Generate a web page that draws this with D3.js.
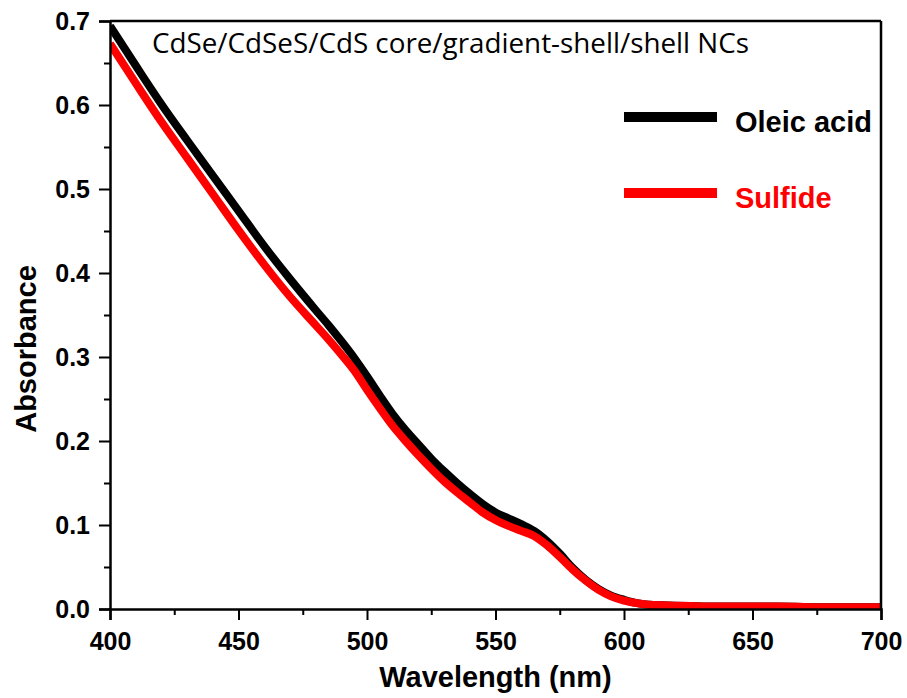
<!DOCTYPE html>
<html>
<head>
<meta charset="utf-8">
<script src="https://cdn.jsdelivr.net/npm/d3@7"></script>
<style>
  html, body { margin: 0; padding: 0; background: #fff; }
  svg { display: block; }
</style>
</head>
<body>
<svg id="chart" width="907" height="698"></svg>
<script>
// Absorption spectra (wavelength in nm, absorbance)
const wavelength = [400, 410, 420, 430, 440, 450, 460, 470, 480, 485, 490, 495, 500, 505, 510, 515, 520, 525, 530, 535, 540, 545, 550, 555, 560, 565, 570, 575, 580, 585, 590, 595, 600, 605, 610, 620, 640, 660, 680, 700];
const oleicAcid = [0.694, 0.647, 0.601, 0.558, 0.516, 0.474, 0.432, 0.393, 0.356, 0.338, 0.319, 0.299, 0.277, 0.254, 0.232, 0.213, 0.196, 0.179, 0.164, 0.150, 0.137, 0.125, 0.115, 0.108, 0.101, 0.093, 0.081, 0.066, 0.049, 0.035, 0.024, 0.016, 0.011, 0.007, 0.005, 0.004, 0.003, 0.003, 0.002, 0.002];
const sulfide   = [0.673, 0.626, 0.580, 0.537, 0.494, 0.451, 0.410, 0.372, 0.338, 0.321, 0.303, 0.284, 0.261, 0.239, 0.218, 0.200, 0.183, 0.167, 0.152, 0.139, 0.127, 0.115, 0.106, 0.099, 0.093, 0.087, 0.076, 0.062, 0.047, 0.034, 0.023, 0.015, 0.010, 0.007, 0.005, 0.004, 0.003, 0.003, 0.002, 0.002];

const seriesNames = ["Oleic acid", "Sulfide"];
const seriesColors = ["#000000", "#ff0000"];

const xMajorTicks = [400, 450, 500, 550, 600, 650, 700];
const xMinorTicks = [425, 475, 525, 575, 625, 675];
const yMajorTicks = [0.0, 0.1, 0.2, 0.3, 0.4, 0.5, 0.6, 0.7];
const yMinorTicks = [0.05, 0.15, 0.25, 0.35, 0.45, 0.55, 0.65];

const titleText = "CdSe/CdSeS/CdS core/gradient-shell/shell NCs";

const svg = d3.select("#chart");
const plot = { left: 110, right: 881, top: 21, bottom: 609 };

const x = d3.scaleLinear().domain([400, 700]).range([plot.left, plot.right]);
const y = d3.scaleLinear().domain([0, 0.7]).range([plot.bottom, plot.top]);

svg.append("defs").append("clipPath").attr("id", "plotClip")
  .append("rect")
  .attr("x", plot.left).attr("y", plot.top)
  .attr("width", plot.right - plot.left).attr("height", plot.bottom - plot.top);

// Spectra
const line = d3.line().curve(d3.curveMonotoneX)
  .x(d => x(d[0])).y(d => y(d[1]));

const seriesData = [oleicAcid, sulfide];
const curves = svg.append("g").attr("clip-path", "url(#plotClip)");
seriesData.forEach((vals, i) => {
  curves.append("path")
    .datum(wavelength.map((w, j) => [w, vals[j]]))
    .attr("fill", "none")
    .attr("stroke", seriesColors[i])
    .attr("stroke-width", 8)
    .attr("stroke-linejoin", "round")
    .attr("d", line);
});

// Axes
const tickFont = "'Liberation Sans', Arial, sans-serif";

const xAxis = svg.append("g").attr("transform", `translate(0,${plot.bottom})`)
  .call(d3.axisBottom(x).tickValues(xMajorTicks).tickSize(11).tickPadding(6).tickFormat(d3.format("d")));
svg.append("g").attr("transform", `translate(0,${plot.bottom})`)
  .call(d3.axisBottom(x).tickValues(xMinorTicks).tickSize(6).tickFormat(""))
  .select(".domain").remove();

const yAxis = svg.append("g").attr("transform", `translate(${plot.left},0)`)
  .call(d3.axisLeft(y).tickValues(yMajorTicks).tickSize(11).tickPadding(9).tickFormat(d3.format(".1f")));
svg.append("g").attr("transform", `translate(${plot.left},0)`)
  .call(d3.axisLeft(y).tickValues(yMinorTicks).tickSize(6).tickFormat(""))
  .select(".domain").remove();

svg.selectAll(".tick line").attr("stroke", "#000").attr("stroke-width", 2);
svg.selectAll(".domain").attr("stroke", "#000").attr("stroke-width", 2.5);
svg.selectAll(".tick text")
  .attr("fill", "#000")
  .style("font-family", tickFont)
  .style("font-weight", "bold")
  .style("font-size", "25px");
xAxis.selectAll(".tick text").attr("dy", null).attr("y", 41);
yAxis.selectAll(".tick text").attr("dy", "0.34em");

// Frame top and right edges
svg.append("line").attr("x1", plot.left).attr("x2", plot.right).attr("y1", plot.top).attr("y2", plot.top)
  .attr("stroke", "#000").attr("stroke-width", 2.5);
svg.append("line").attr("x1", plot.right).attr("x2", plot.right).attr("y1", plot.top).attr("y2", plot.bottom)
  .attr("stroke", "#000").attr("stroke-width", 2.5);

// Axis titles
svg.append("text")
  .attr("x", (plot.left + plot.right) / 2).attr("y", 687)
  .attr("text-anchor", "middle")
  .style("font-family", tickFont).style("font-weight", "bold").style("font-size", "29px")
  .text("Wavelength (nm)");

svg.append("text")
  .attr("transform", "translate(36,349) rotate(-90)")
  .attr("text-anchor", "middle")
  .style("font-family", tickFont).style("font-weight", "bold").style("font-size", "29px")
  .text("Absorbance");

// Sample description
svg.append("text")
  .attr("x", 152).attr("y", 53)
  .attr("textLength", 597).attr("lengthAdjust", "spacingAndGlyphs")
  .style("font-family", "'Open Sans', 'Noto Sans', sans-serif").style("font-size", "27px")
  .attr("fill", "#000")
  .text(titleText);

// Legend
const legendY = [117, 193];
seriesNames.forEach((name, i) => {
  svg.append("line")
    .attr("x1", 624).attr("x2", 717).attr("y1", legendY[i]).attr("y2", legendY[i])
    .attr("stroke", seriesColors[i]).attr("stroke-width", 10);
  svg.append("text")
    .attr("x", 735).attr("y", legendY[i] + 15)
    .style("font-family", tickFont).style("font-weight", "bold").style("font-size", "29px")
    .attr("fill", seriesColors[i])
    .text(name);
});
</script>
</body>
</html>
